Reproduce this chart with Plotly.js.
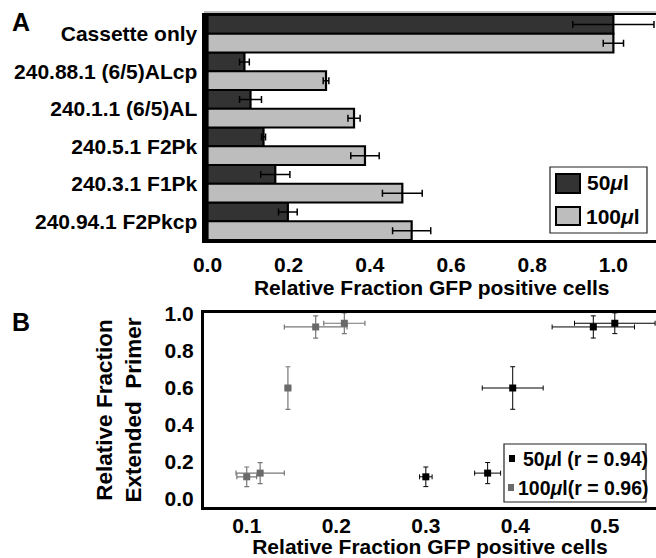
<!DOCTYPE html>
<html>
<head>
<meta charset="utf-8">
<script src="https://cdn.plot.ly/plotly-3.0.1.min.js"></script>
<style>html,body{margin:0;padding:0;background:#fff}#chart{width:656px;height:558px}</style>
</head>
<body>
<div id="chart"></div>
<script>
// ---- Panel A data ----
const categories = ["Cassette only", "240.88.1 (6/5)ALcp", "240.1.1 (6/5)AL", "240.5.1 F2Pk", "240.3.1 F1Pk", "240.94.1 F2Pkcp"];
const gfp50 = [1.0, 0.091, 0.106, 0.138, 0.167, 0.198];
const gfp50Err = [0.1, 0.012, 0.027, 0.005, 0.036, 0.023];
const gfp100 = [1.0, 0.292, 0.361, 0.388, 0.48, 0.503];
const gfp100Err = [0.025, 0.007, 0.015, 0.035, 0.049, 0.047];
const xTicksA = [0, 0.2, 0.4, 0.6, 0.8, 1.0];

// ---- Panel B data ----
const gfpX50 = [0.487, 0.511, 0.397, 0.300, 0.369];
const gfpX50Err = [0.046, 0.045, 0.034, 0.007, 0.0145];
const primer50 = [0.93, 0.95, 0.60, 0.12, 0.14];
const primer50Err = [0.06, 0.056, 0.115, 0.053, 0.057];
const gfpX100 = [0.177, 0.209, 0.146, 0.100, 0.115];
const gfpX100Err = [0.035, 0.023, 0.003, 0.011, 0.027];
const primer100 = [0.93, 0.95, 0.60, 0.12, 0.14];
const primer100Err = [0.06, 0.056, 0.115, 0.053, 0.057];
const xTicksB = [0.1, 0.2, 0.3, 0.4, 0.5];
const yTicksB = [0, 0.2, 0.4, 0.6, 0.8, 1.0];

const W = 656, H = 558;
const fx = x => x / W;
const fy = y => 1 - y / H;
const FAM = "Liberation Sans, Arial, sans-serif";
const bold = (s, c) => ({family: FAM, size: s, weight: 'bold', color: c || '#000'});

const DARK = '#333333', LIGHT = '#bdbdbd', GRAY = '#6a6a6a';

const traces = [
  {type: 'bar', orientation: 'h', y: categories, x: gfp50, name: '50µl',
   marker: {color: DARK, line: {color: '#000', width: 2.2}},
   error_x: {type: 'data', array: gfp50Err, visible: true, color: '#000', thickness: 1.5, width: 3.5},
   xaxis: 'x', yaxis: 'y', showlegend: false},
  {type: 'bar', orientation: 'h', y: categories, x: gfp100, name: '100µl',
   marker: {color: LIGHT, line: {color: '#000', width: 2.2}},
   error_x: {type: 'data', array: gfp100Err, visible: true, color: '#000', thickness: 1.5, width: 3.5},
   xaxis: 'x', yaxis: 'y', showlegend: false},
  {type: 'scatter', mode: 'markers', x: gfpX50, y: primer50, name: '50µl (r = 0.94)',
   marker: {symbol: 'square', size: 7, color: '#000'},
   error_x: {type: 'data', array: gfpX50Err, visible: true, color: '#000', thickness: 1, width: 2.5},
   error_y: {type: 'data', array: primer50Err, visible: true, color: '#000', thickness: 1, width: 2.5},
   xaxis: 'x2', yaxis: 'y2', showlegend: false, cliponaxis: true},
  {type: 'scatter', mode: 'markers', x: gfpX100, y: primer100, name: '100µl(r = 0.96)',
   marker: {symbol: 'square', size: 7, color: GRAY},
   error_x: {type: 'data', array: gfpX100Err, visible: true, color: '#777', thickness: 1.2, width: 2.5},
   error_y: {type: 'data', array: primer100Err, visible: true, color: '#777', thickness: 1.2, width: 2.5},
   xaxis: 'x2', yaxis: 'y2', showlegend: false, cliponaxis: true}
];

const shapes = [
  // thin grey rule above panel A frame
  {type: 'line', xref: 'paper', yref: 'paper', x0: fx(204), x1: 1, y0: fy(12), y1: fy(12), line: {color: '#aaa', width: 1.5}},
  // legend A
  {type: 'rect', xref: 'paper', yref: 'paper', x0: fx(550), x1: fx(647), y0: fy(233), y1: fy(167), line: {color: '#222', width: 1.2}, fillcolor: '#fff'},
  {type: 'rect', xref: 'paper', yref: 'paper', x0: fx(556), x1: fx(580), y0: fy(193), y1: fy(174), line: {color: '#000', width: 2}, fillcolor: DARK},
  {type: 'rect', xref: 'paper', yref: 'paper', x0: fx(556), x1: fx(580), y0: fy(225), y1: fy(207), line: {color: '#000', width: 2}, fillcolor: LIGHT},
  // legend B
  {type: 'rect', xref: 'paper', yref: 'paper', x0: fx(504), x1: fx(646), y0: fy(502), y1: fy(444), line: {color: '#222', width: 1.2}, fillcolor: '#fff'},
  {type: 'rect', xref: 'paper', yref: 'paper', x0: fx(509), x1: fx(515), y0: fy(462), y1: fy(455), line: {width: 0}, fillcolor: '#000'},
  {type: 'rect', xref: 'paper', yref: 'paper', x0: fx(508), x1: fx(514), y0: fy(491), y1: fy(484), line: {width: 0}, fillcolor: GRAY}
];

const annotations = [
  {text: 'A', xref: 'paper', yref: 'paper', x: fx(10), y: fy(22), xanchor: 'left', yanchor: 'middle', showarrow: false, font: bold(25)},
  {text: 'B', xref: 'paper', yref: 'paper', x: fx(10), y: fy(322), xanchor: 'left', yanchor: 'middle', showarrow: false, font: bold(25)},
  {text: '50<i>μ</i>l', xref: 'paper', yref: 'paper', x: fx(585), y: fy(183), xanchor: 'left', yanchor: 'middle', showarrow: false, font: bold(21)},
  {text: '100<i>μ</i>l', xref: 'paper', yref: 'paper', x: fx(584), y: fy(216), xanchor: 'left', yanchor: 'middle', showarrow: false, font: bold(21)},
  {text: '50<i>μ</i>l (r = 0.94)', xref: 'paper', yref: 'paper', x: fx(521), y: fy(459), xanchor: 'left', yanchor: 'middle', showarrow: false, font: bold(19.5)},
  {text: '100<i>μ</i>l(r = 0.96)', xref: 'paper', yref: 'paper', x: fx(516), y: fy(488), xanchor: 'left', yanchor: 'middle', showarrow: false, font: bold(19.5)}
];

const layout = {
  width: W, height: H,
  margin: {l: 0, r: 0, t: 0, b: 0},
  paper_bgcolor: '#fff', plot_bgcolor: '#fff',
  barmode: 'group', bargap: 0, bargroupgap: 0,
  showlegend: false,
  font: bold(21),
  xaxis: {domain: [fx(207.5), 1], anchor: 'y', range: [0, 1.105], tickvals: xTicksA, tickformat: '.1f',
          showgrid: false, zeroline: false, showline: true, mirror: true, linecolor: '#000', linewidth: 2.5,
          ticks: '', tickfont: bold(21), ticklabelstandoff: 4,
          title: {text: 'Relative Fraction GFP positive cells', font: bold(21), standoff: 6}},
  yaxis: {domain: [fy(240), fy(15)], anchor: 'x', range: [5.5, -0.5], type: 'category',
          showgrid: false, zeroline: false, showline: true, linecolor: '#000', linewidth: 6,
          ticks: '', tickfont: bold(21)},
  xaxis2: {domain: [fx(204), 1], anchor: 'y2', range: [0.0523, 0.557], tickvals: xTicksB, tickformat: '.1f',
           showgrid: false, zeroline: false, showline: true, mirror: true, linecolor: '#000', linewidth: 3,
           ticks: '', tickfont: bold(21), ticklabelstandoff: -2,
           title: {text: 'Relative Fraction GFP positive cells', font: bold(21), standoff: 7}},
  yaxis2: {domain: [fy(507), fy(313)], anchor: 'x2', range: [-0.0432, 1.0054], tickvals: yTicksB, tickformat: '.1f',
           showgrid: false, zeroline: false, showline: true, linecolor: '#000', linewidth: 3,
           ticks: '', tickfont: bold(21), ticklabelstandoff: 3,
           title: {text: 'Relative Fraction<br>Extended\u00a0\u00a0Primer', font: bold(22.5), standoff: 17}},
  shapes: shapes,
  annotations: annotations
};

Plotly.newPlot('chart', traces, layout, {staticPlot: true, displayModeBar: false});
</script>
</body>
</html>
